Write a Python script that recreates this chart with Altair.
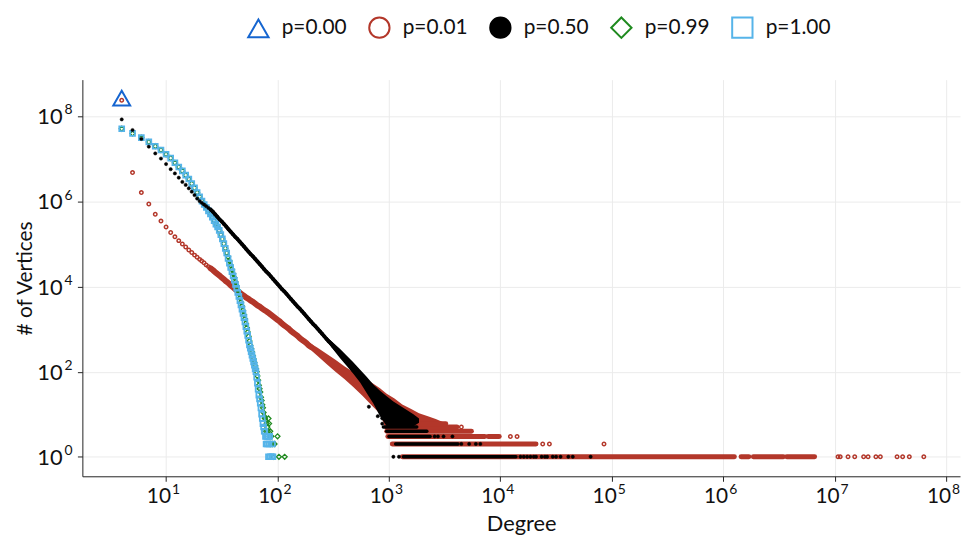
import altair as alt
import numpy as np
import pandas as pd

# ---------------- series / legend ----------------
SERIES = ["p=0.00", "p=0.01", "p=0.50", "p=0.99", "p=1.00"]
STROKES = ["#1565d0", "#b3372a", "#000000", "#1f8a1f", "#56b4e9"]
FILLS = ["transparent", "transparent", "#000000", "transparent", "transparent"]
SHAPES = ["triangle-up", "circle", "circle", "diamond", "square"]

X_TICKS = [1e1, 1e2, 1e3, 1e4, 1e5, 1e6, 1e7, 1e8]
X_EXP = ["1", "2", "3", "4", "5", "6", "7", "8"]
Y_TICKS = [1e0, 1e2, 1e4, 1e6, 1e8]
Y_EXP = ["0", "2", "4", "6", "8"]

# ---------------- data (log10 units where named log*) ----------------
# p=0.00
p000_deg = [4]
p000_logcnt = [8.43]

# p=0.01
p001_deg = [4, 5, 6, 7, 8, 9, 10, 11, 12, 13, 14, 15, 16, 17, 18, 19, 20]
p001_logcnt = [8.38, 6.68, 6.21, 5.94, 5.70, 5.54, 5.40, 5.27, 5.17, 5.08,
               5.00, 4.93, 4.86, 4.80, 4.74, 4.69, 4.64]
p001_diag_logdeg = [1.32, 1.34, 1.36, 1.38, 1.40, 1.42, 1.44, 1.46, 1.48, 1.50,
                    1.52, 1.54, 1.56, 1.58, 1.60, 1.62, 1.64, 1.66, 1.68, 1.70,
                    1.72, 1.74, 1.76, 1.78, 1.80, 1.82, 1.84, 1.86, 1.88, 1.90,
                    1.92, 1.94, 1.96, 1.98, 2.00, 2.02, 2.04, 2.06, 2.08, 2.10,
                    2.12, 2.14, 2.16, 2.18, 2.20, 2.22, 2.24, 2.26, 2.28, 2.30]
p001_diag_logcnt = [4.60, 4.56, 4.51, 4.47, 4.43, 4.39, 4.34, 4.30, 4.26, 4.21,
                    4.17, 4.12, 4.08, 4.03, 3.99, 3.94, 3.90, 3.86, 3.82, 3.78,
                    3.74, 3.71, 3.67, 3.64, 3.60, 3.56, 3.53, 3.49, 3.45, 3.42,
                    3.38, 3.34, 3.30, 3.26, 3.22, 3.18, 3.13, 3.09, 3.05, 3.01,
                    2.96, 2.92, 2.88, 2.84, 2.79, 2.75, 2.71, 2.67, 2.62, 2.58]
p001_band_logdeg = [2.28, 2.36, 2.44, 2.52, 2.60, 2.68, 2.76, 2.84, 2.92, 2.98,
                    3.05, 3.12, 3.20, 3.27, 3.35, 3.42, 3.50]
p001_band_loglo = [2.55, 2.37, 2.18, 2.00, 1.83, 1.64, 1.44, 1.22, 1.01, 0.60,
                   0.60, 0.60, 0.60, 0.60, 0.62, 0.64, 0.68]
p001_band_loghi = [2.69, 2.56, 2.42, 2.28, 2.13, 1.99, 1.87, 1.75, 1.61, 1.48,
                   1.37, 1.23, 1.12, 1.02, 0.95, 0.89, 0.80]
p001_run_cnt = [1, 1, 1, 1, 2, 3, 3, 4, 5, 6]
p001_run_logfrom = [3.12, 6.16, 6.27, 6.57, 3.03, 2.99, 3.89, 2.98, 2.98, 2.98]
p001_run_logto = [6.10, 6.23, 6.54, 6.82, 4.32, 3.86, 3.99, 3.74, 3.61, 3.51]
p001_iso_logdeg = [3.65, 4.09, 4.15, 4.38, 4.44, 4.93, 7.03, 7.05, 7.12, 7.18,
                   7.26, 7.30, 7.37, 7.41, 7.56, 7.61, 7.67, 7.80]
p001_iso_cnt = [5, 3, 3, 2, 2, 2, 1, 1, 1, 1, 1, 1, 1, 1, 1, 1, 1, 1]

# p=0.50
p050_deg = [4, 5, 6, 7, 8, 9, 10, 11, 12, 13, 14, 15, 16, 17, 18, 19, 20]
p050_logcnt = [7.93, 7.68, 7.47, 7.29, 7.13, 7.01, 6.88, 6.76, 6.66, 6.56,
               6.46, 6.39, 6.31, 6.23, 6.15, 6.07, 6.01]
p050_diag_logdeg = [1.32, 1.34, 1.36, 1.38, 1.40, 1.42, 1.44, 1.46, 1.48, 1.50,
                    1.52, 1.54, 1.56, 1.58, 1.60, 1.62, 1.64, 1.66, 1.68, 1.70,
                    1.72, 1.74, 1.76, 1.78, 1.80, 1.82, 1.84, 1.86, 1.88, 1.90,
                    1.92, 1.94, 1.96, 1.98, 2.00, 2.02, 2.04, 2.06, 2.08, 2.10,
                    2.12, 2.14, 2.16, 2.18, 2.20, 2.22, 2.24, 2.26, 2.28, 2.30,
                    2.32, 2.34, 2.36, 2.38, 2.40, 2.42, 2.44, 2.46, 2.48, 2.50,
                    2.52, 2.54]
p050_diag_logcnt = [5.97, 5.93, 5.89, 5.85, 5.81, 5.76, 5.70, 5.64, 5.58, 5.53,
                    5.47, 5.41, 5.35, 5.29, 5.23, 5.17, 5.12, 5.06, 5.00, 4.94,
                    4.88, 4.82, 4.76, 4.71, 4.65, 4.59, 4.53, 4.47, 4.41, 4.35,
                    4.30, 4.24, 4.18, 4.12, 4.06, 4.00, 3.94, 3.89, 3.83, 3.77,
                    3.71, 3.65, 3.59, 3.53, 3.48, 3.42, 3.36, 3.30, 3.24, 3.18,
                    3.12, 3.07, 3.01, 2.95, 2.89, 2.83, 2.77, 2.71, 2.66, 2.60,
                    2.54, 2.48]
p050_band_logdeg = [2.44, 2.50, 2.56, 2.62, 2.68, 2.74, 2.80, 2.86, 2.92, 2.98,
                    3.04, 3.10, 3.16, 3.22, 3.27]
p050_band_loglo = [2.72, 2.52, 2.32, 2.14, 1.95, 1.75, 1.50, 1.25, 0.95, 0.72,
                   0.72, 0.72, 0.72, 0.72, 0.80]
p050_band_loghi = [2.82, 2.68, 2.54, 2.38, 2.22, 2.05, 1.88, 1.70, 1.55, 1.42,
                   1.30, 1.20, 1.10, 1.00, 0.90]
p050_run_cnt = [1, 2, 3, 4, 5]
p050_run_logfrom = [3.13, 3.06, 3.00, 2.98, 2.95]
p050_run_logto = [4.14, 3.62, 3.37, 3.34, 3.25]
p050_iso_logdeg = [3.04, 3.09, 4.18, 4.21, 4.24, 4.27, 4.30, 4.32, 4.37, 4.40,
                   4.42, 4.47, 4.50, 4.54, 4.61, 4.65, 4.81,
                   3.65, 3.72, 3.78, 3.82, 3.41, 3.44, 3.49, 3.57,
                   2.82, 2.90, 2.94, 2.94]
p050_iso_cnt = [1] * 17 + [2] * 4 + [3] * 4 + [15, 9, 8, 6]

# p=0.99
p099_deg = list(range(4, 89)) + [90, 92, 94, 100, 103, 116]
p099_logcnt = [7.71, 7.60, 7.50, 7.40, 7.30, 7.21, 7.11, 7.02, 6.91, 6.81,
               6.72, 6.62, 6.53, 6.42, 6.32, 6.21, 6.11, 6.01, 5.93, 5.86,
               5.78, 5.71, 5.63, 5.55, 5.47, 5.40, 5.32, 5.22, 5.12, 5.01,
               4.90, 4.79,
               4.70, 4.60, 4.50, 4.40, 4.30, 4.21, 4.11, 4.02, 3.92, 3.83,
               3.73, 3.63, 3.54, 3.44, 3.34, 3.24, 3.13, 3.03, 2.93, 2.83,
               2.72, 2.62, 2.54, 2.46, 2.38, 2.30, 2.22, 2.14, 2.07, 2.00,
               1.90, 1.80, 1.68, 1.60, 1.52, 1.40, 1.32, 1.22, 1.15, 1.04,
               0.95, 0.90, 0.85, 0.60, 0.78, 0.70, 0.60, 0.90, 0.78, 0.48,
               0.60, 0.30, 0.48,
               0.30, 0.00, 0.30, 0.48, 0.00, 0.00]

# p=1.00
p100_deg = list(range(4, 87)) + [89, 90, 91]
p100_logcnt = [7.71, 7.60, 7.50, 7.40, 7.30, 7.21, 7.11, 7.02, 6.91, 6.81,
               6.72, 6.62, 6.53, 6.42, 6.32, 6.21, 6.11,
               6.01, 5.93, 5.86, 5.78, 5.71, 5.63, 5.55, 5.47, 5.40, 5.32,
               5.22, 5.12, 5.01, 4.90, 4.79, 4.66, 4.55, 4.45, 4.35, 4.25,
               4.15, 4.05, 3.96, 3.86, 3.77, 3.67, 3.57, 3.47, 3.37, 3.27,
               3.17, 3.06, 2.95, 2.85, 2.74, 2.63, 2.55, 2.47, 2.39, 2.31,
               2.23, 2.15, 2.07, 2.00, 1.87, 1.73, 1.59, 1.45, 1.36, 1.26,
               1.15, 1.00, 0.90, 0.78, 0.70, 0.60, 0.60, 0.48, 0.30, 0.48,
               0.30, 0.48, 0.00, 0.30, 0.48, 0.00,
               0.00, 0.30, 0.00]

# ---------------- helpers ----------------
def p10(v):
    return np.power(10.0, np.asarray(v, dtype=float))


def pts_frame(series, deg, cnt):
    return pd.DataFrame({"deg": np.asarray(deg, dtype=float),
                         "cnt": np.asarray(cnt, dtype=float),
                         "series": series})


FONT = "Lato"
XS = alt.Scale(type="log", domain=[1.774, 1.3335e8], nice=False)
YS = alt.Scale(type="log", domain=[0.3475, 7.328e8], nice=False)
X_AXIS = alt.Axis(values=X_TICKS, labels=False, title="Degree", titleFont=FONT,
                  titleFontSize=22, titleFontWeight="normal", titleColor="#111111",
                  titlePadding=32, tickSize=5, tickColor="#222222", tickWidth=1,
                  domainColor="#222222", domainWidth=1, grid=True,
                  gridColor="#ebebeb", gridWidth=1)
Y_AXIS = alt.Axis(values=Y_TICKS, labels=False, title="# of Vertices", titleFont=FONT,
                  titleFontSize=21, titleFontWeight="normal", titleColor="#111111",
                  titlePadding=42, tickSize=5, tickColor="#222222", tickWidth=1,
                  domainColor="#222222", domainWidth=1, grid=True,
                  gridColor="#ebebeb", gridWidth=1)

LEG = alt.Legend(title=None, orient="none", legendX=166, legendY=-64,
                 direction="horizontal", symbolSize=420, symbolStrokeWidth=2,
                 labelFont=FONT, labelFontSize=21, labelColor="#111111",
                 labelOffset=12, columnPadding=18, padding=0, symbolOpacity=1)


def point_layer(df, size, sw):
    return alt.Chart(df).mark_point(opacity=1, size=size, strokeWidth=sw).encode(
        x=alt.X("deg:Q", scale=XS, axis=X_AXIS),
        y=alt.Y("cnt:Q", scale=YS, axis=Y_AXIS),
        shape=alt.Shape("series:N", scale=alt.Scale(domain=SERIES, range=SHAPES), legend=LEG),
        stroke=alt.Stroke("series:N", scale=alt.Scale(domain=SERIES, range=STROKES), legend=LEG),
        fill=alt.Fill("series:N", scale=alt.Scale(domain=SERIES, range=FILLS), legend=LEG),
    )


def band_layer(logdeg, loglo, loghi, color):
    df = pd.DataFrame({"deg": p10(logdeg), "lo": p10(loglo), "hi": p10(loghi)})
    return alt.Chart(df).mark_area(color=color, opacity=1, interpolate="linear").encode(
        x=alt.X("deg:Q", scale=XS, axis=X_AXIS),
        y=alt.Y("lo:Q", scale=YS, axis=Y_AXIS),
        y2="hi:Q",
    )


def dense_line_layer(logdeg, logcnt, color, width):
    # dense run of overlapping markers along the read curve
    df = pd.DataFrame({"deg": p10(logdeg), "cnt": p10(logcnt)})
    return alt.Chart(df).mark_line(color=color, strokeWidth=width, strokeCap="round",
                                   strokeJoin="round", opacity=1).encode(
        x=alt.X("deg:Q", scale=XS, axis=X_AXIS),
        y=alt.Y("cnt:Q", scale=YS, axis=Y_AXIS),
    )


def run_layer(cnt, logfrom, logto, color, width):
    df = pd.DataFrame({"cnt": np.asarray(cnt, dtype=float),
                       "x1": p10(logfrom), "x2": p10(logto)})
    return alt.Chart(df).mark_rule(color=color, strokeWidth=width, strokeCap="round").encode(
        x=alt.X("x1:Q", scale=XS, axis=X_AXIS),
        x2="x2:Q",
        y=alt.Y("cnt:Q", scale=YS, axis=Y_AXIS),
    )


RED, BLACK = STROKES[1], STROKES[2]

layers = [
    band_layer(p001_band_logdeg, p001_band_loglo, p001_band_loghi, RED),
    run_layer(p001_run_cnt, p001_run_logfrom, p001_run_logto, RED, 5),
    dense_line_layer(p001_diag_logdeg[4:], p001_diag_logcnt[4:], RED, 6),
    point_layer(pts_frame("p=0.01", p001_deg, p10(p001_logcnt)), 12, 1.5),
    point_layer(pts_frame("p=0.01", p10(p001_diag_logdeg), p10(p001_diag_logcnt)), 12, 1.5),
    point_layer(pts_frame("p=0.01", p10(p001_iso_logdeg), p001_iso_cnt), 12, 1.5),
    point_layer(pts_frame("p=0.99", p099_deg, p10(p099_logcnt)), 25, 1.3),
    point_layer(pts_frame("p=1.00", p100_deg, p10(p100_logcnt)), 24, 1.8),
    band_layer(p050_band_logdeg, p050_band_loglo, p050_band_loghi, BLACK),
    run_layer(p050_run_cnt, p050_run_logfrom, p050_run_logto, BLACK, 3.5),
    dense_line_layer(p050_diag_logdeg[4:], p050_diag_logcnt[4:], BLACK, 3.8),
    point_layer(pts_frame("p=0.50", p050_deg, p10(p050_logcnt)), 11, 0.5),
    point_layer(pts_frame("p=0.50", p10(p050_diag_logdeg), p10(p050_diag_logcnt)), 11, 0.5),
    point_layer(pts_frame("p=0.50", p10(p050_iso_logdeg), p050_iso_cnt), 11, 0.5),
    point_layer(pts_frame("p=0.00", p000_deg, p10(p000_logcnt)), 289, 2),
]

# tick labels: "10" with a raised exponent
xlab = pd.DataFrame({"tick": X_TICKS, "base": ["10"] * len(X_TICKS), "exp": X_EXP})
ylab = pd.DataFrame({"tick": Y_TICKS, "base": ["10"] * len(Y_TICKS), "exp": Y_EXP})

x_base = alt.Chart(xlab).mark_text(align="right", baseline="alphabetic", dx=5,
                                   font=FONT, fontSize=21, color="#111111").encode(
    x=alt.X("tick:Q", scale=XS, axis=X_AXIS), y=alt.value(427), text="base:N")
x_exp = alt.Chart(xlab).mark_text(align="left", baseline="alphabetic", dx=6,
                                  font=FONT, fontSize=14, color="#111111").encode(
    x=alt.X("tick:Q", scale=XS, axis=X_AXIS), y=alt.value(418), text="exp:N")
y_base = alt.Chart(ylab).mark_text(align="right", baseline="alphabetic", dy=8,
                                   font=FONT, fontSize=22, color="#111111").encode(
    y=alt.Y("tick:Q", scale=YS, axis=Y_AXIS), x=alt.value(-20), text="base:N")
y_exp = alt.Chart(ylab).mark_text(align="left", baseline="alphabetic", dy=-2,
                                  font=FONT, fontSize=14, color="#111111").encode(
    y=alt.Y("tick:Q", scale=YS, axis=Y_AXIS), x=alt.value(-18), text="exp:N")

chart = alt.layer(*layers, x_base, x_exp, y_base, y_exp).properties(
    width=885,
    height=400,
    padding={"left": 75, "top": 70, "right": 3, "bottom": 60},
    autosize=alt.AutoSizeParams(type="none"),
    background="white",
).configure_view(strokeWidth=0)

chart.save("out.html", embed_options={"renderer": "svg", "actions": False})
